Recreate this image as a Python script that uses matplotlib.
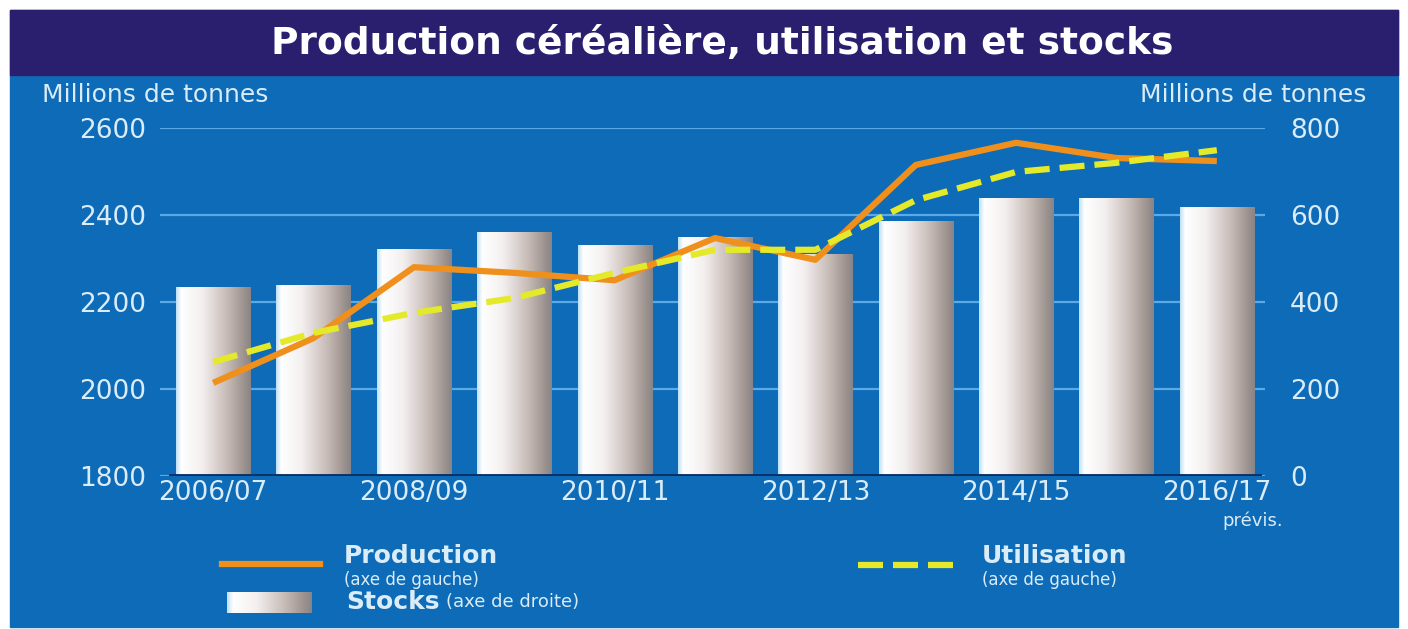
import numpy as np
import matplotlib
matplotlib.use("Agg")
import matplotlib.pyplot as plt
from matplotlib.colors import LinearSegmentedColormap
from matplotlib.patches import Rectangle

plt.rcParams['font.family'] = ['DejaVu Sans']

# Campaigns (only every other label is printed on the axis)
seasons = ["2006/07", "2007/08", "2008/09", "2009/10", "2010/11", "2011/12",
           "2012/13", "2013/14", "2014/15", "2015/16", "2016/17"]
tick_labels = ["2006/07", "", "2008/09", "", "2010/11", "",
               "2012/13", "", "2014/15", "", "2016/17"]

# Millions of tonnes
production = [2014, 2117, 2280, 2267, 2250, 2347, 2297, 2515, 2566, 2531, 2524]
utilisation = [2062, 2129, 2175, 2209, 2267, 2320, 2320, 2434, 2499, 2520, 2549]
stocks = [434, 439, 522, 561, 531, 549, 510, 586, 639, 639, 618]

W, H = 1408, 629
NAVY = "#2a1f6e"
BLUE = "#0e6bb7"
GRID = "#5aaae8"
TXT = "#d9ecf8"
ORANGE = "#f0901c"
YELLOW = "#e4ea2a"

bar_cmap = LinearSegmentedColormap.from_list(
    "cyl", [(0.0, "#bfe0f4"), (0.07, "#ffffff"), (0.35, "#f3efef"),
            (0.7, "#c4b8b3"), (0.9, "#9e9490"), (1.0, "#878487")])


def fx(px):
    return px / W


def fy(py):
    return 1 - py / H


fig = plt.figure(figsize=(W / 100, H / 100), dpi=100, facecolor="white")

# background panels
fig.patches.append(Rectangle((fx(10), fy(627)), fx(1388), 617 / H,
                             transform=fig.transFigure, color=BLUE, zorder=-10))
fig.patches.append(Rectangle((fx(10), fy(75)), fx(1388), 65 / H,
                             transform=fig.transFigure, color=NAVY, zorder=-9))

fig.text(fx(722), fy(44), "Production céréalière, utilisation et stocks",
         color="white", fontsize=27, fontweight="bold", ha="center", va="center")

left, right, top, bottom = 160, 1265, 128, 476
ax = fig.add_axes([fx(left), fy(bottom), (right - left) / W, (bottom - top) / H])
ax.patch.set_alpha(0)
x = np.arange(len(seasons))

# stocks bars with a cylinder-like gradient
bars = ax.bar(x, stocks, width=0.74, color="none", edgecolor="none", zorder=2)
grad = np.linspace(0, 1, 256).reshape(1, -1)
for b in bars:
    im = ax.imshow(grad, cmap=bar_cmap, aspect="auto", zorder=2,
                   extent=[b.get_x(), b.get_x() + b.get_width(), 0, b.get_height()])
    im.set_clip_path(b)

ax.set_xlim(-0.53, 10.48)
ax.set_ylim(0, 800)
ax.set_yticks([0, 200, 400, 600, 800])
ax.grid(axis="y", color=GRID, linewidth=1.6)
ax.set_axisbelow(True)
ax.axhline(0, color="#0b2f63", linewidth=3.5, zorder=3, xmin=0.01, xmax=0.995)
for s in ax.spines.values():
    s.set_visible(False)
ax.set_xticks(x)
ax.set_xticklabels(tick_labels)
ax.tick_params(axis="x", length=0, pad=3, labelsize=19, labelcolor=TXT)

# production and utilisation on the left axis
ax2 = ax.twinx()
ax.yaxis.tick_right()
ax.tick_params(axis="y", length=0, pad=18, labelsize=19, labelcolor=TXT)
ax2.yaxis.tick_left()
ax2.set_ylim(1800, 2600)
ax2.set_yticks([1800, 2000, 2200, 2400, 2600])
ax2.tick_params(axis="y", length=0, pad=10, labelsize=19, labelcolor=TXT)
for s in ax2.spines.values():
    s.set_visible(False)
ax2.plot(x, production, color=ORANGE, linewidth=4.5, solid_capstyle="butt", zorder=4)
ax2.plot(x, utilisation, color=YELLOW, linewidth=4.5, dashes=(4, 1.6), zorder=5)

fig.text(fx(42), fy(95), "Millions de tonnes", color=TXT, fontsize=18, va="center")
fig.text(fx(1366), fy(95), "Millions de tonnes", color=TXT, fontsize=18,
         va="center", ha="right")
fig.text(fx(1283), fy(521), "prévis.", color=TXT, fontsize=13, va="center", ha="right")

# legend
fig.add_artist(plt.Line2D([fx(222), fx(320)], [fy(564), fy(564)],
                          color=ORANGE, linewidth=4.5, transform=fig.transFigure))
fig.add_artist(plt.Line2D([fx(858), fx(953)], [fy(565), fy(565)],
                          color=YELLOW, linewidth=4.5, dashes=(4, 1.6),
                          transform=fig.transFigure))
lax = fig.add_axes([fx(227), fy(613), 85 / W, 21 / H])
lax.imshow(grad, cmap=bar_cmap, aspect="auto")
lax.axis("off")

fig.text(fx(344), fy(556), "Production", color=TXT, fontsize=18,
         fontweight="bold", va="center")
fig.text(fx(344), fy(580), "(axe de gauche)", color=TXT, fontsize=12, va="center")
fig.text(fx(982), fy(556), "Utilisation", color=TXT, fontsize=18,
         fontweight="bold", va="center")
fig.text(fx(982), fy(580), "(axe de gauche)", color=TXT, fontsize=12, va="center")
st = fig.text(fx(346), fy(602), "Stocks", color=TXT, fontsize=18,
              fontweight="bold", va="center")
fig.add_artist(plt.Annotation("(axe de droite)", xy=(1, 0.5), xycoords=st,
                              xytext=(5, 0), textcoords="offset points",
                              color=TXT, fontsize=13, va="center"))

fig.savefig("out.png", dpi=100)
